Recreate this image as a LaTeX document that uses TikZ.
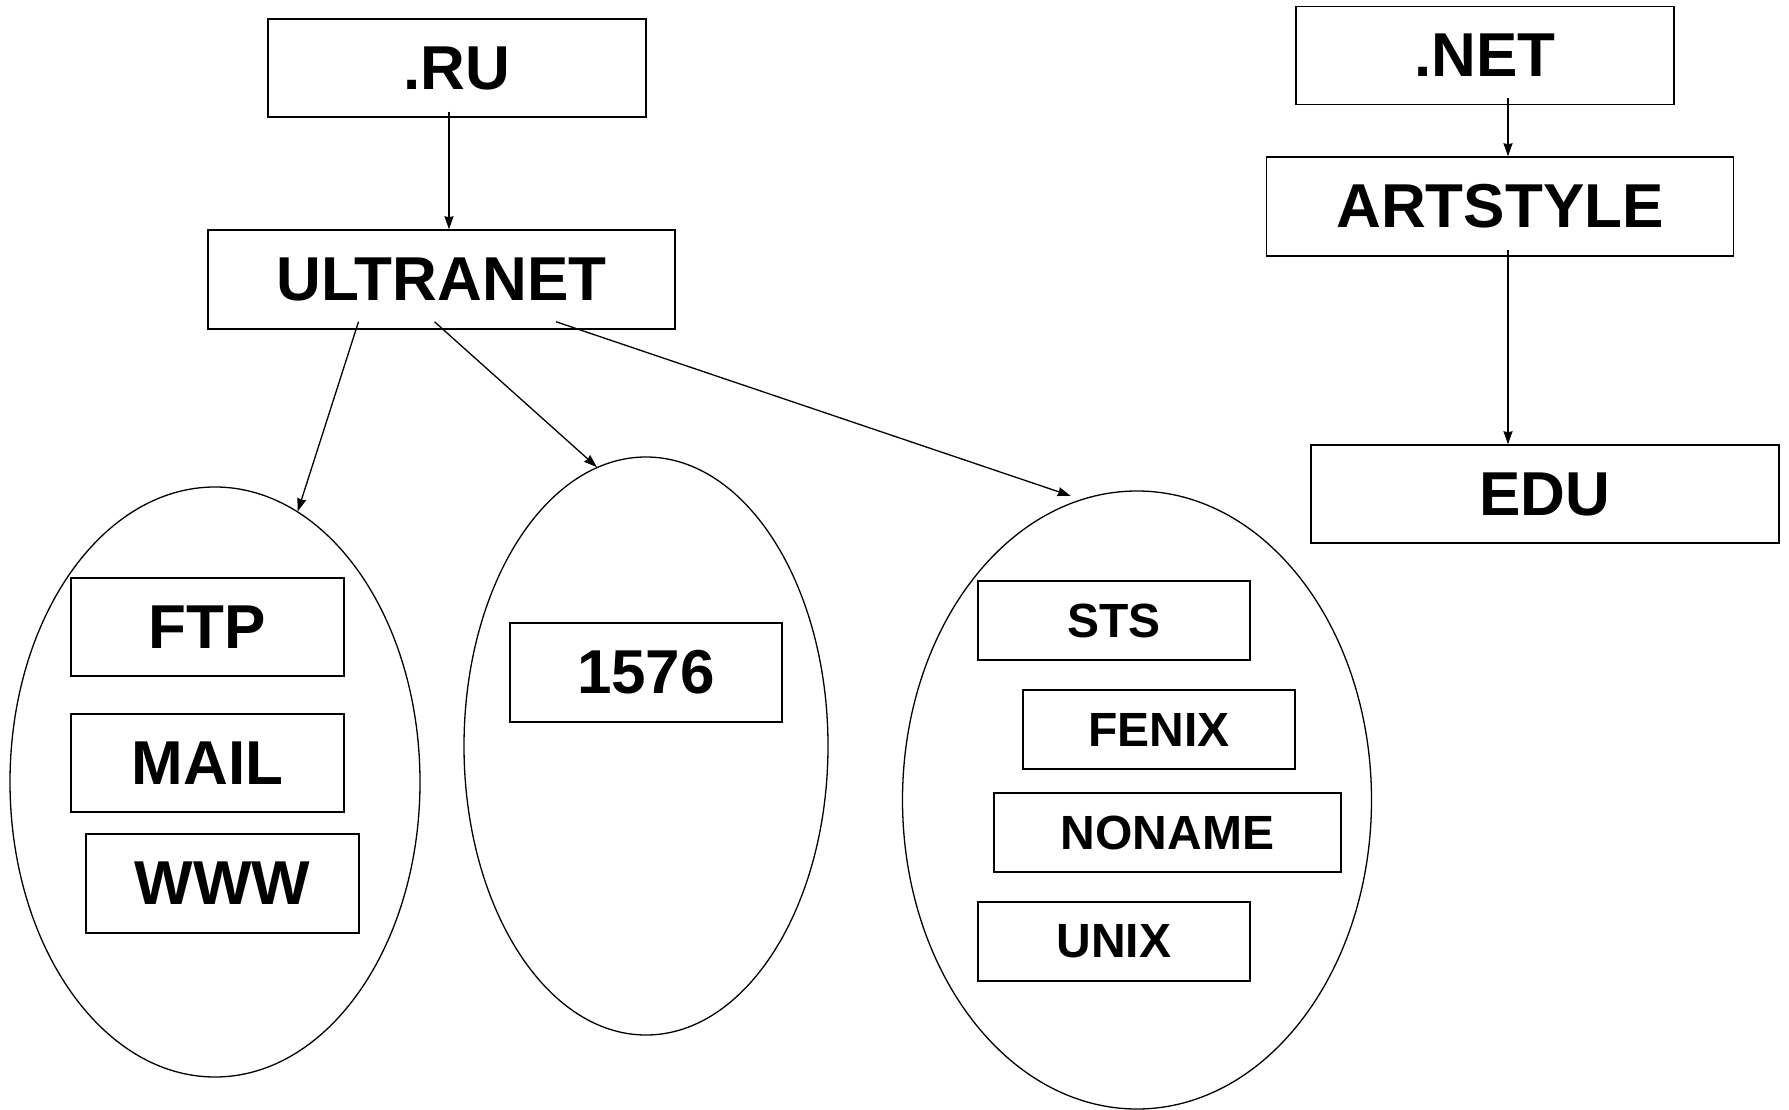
\documentclass[tikz,border=0pt]{standalone}
\usepackage{fontspec}
\setmainfont{Liberation Sans}
\usetikzlibrary{shapes.geometric,arrows.meta}

\begin{document}
\begin{tikzpicture}[x=1pt,y=-1pt,line width=1.3pt,
	box/.style={draw,rectangle,line width=1.5pt,inner sep=0pt,minimum height=98pt,font=\fontsize{62}{70}\selectfont\bfseries},
	smallbox/.style={box,minimum height=79pt,font=\fontsize{48}{56}\selectfont\bfseries},
	group/.style={draw,ellipse,inner sep=0pt},
	arr/.style={->,>={Stealth[length=13pt,width=9pt,inset=1pt]}}]
			\useasboundingbox (0,0) rectangle (1789,1110);
			% domains
			\node[box,minimum width=378pt] (RU)at(457,68) {.RU};
			\node[box,minimum width=467pt,minimum height=99pt] (ULTRANET)at(441.5,279.5) {ULTRANET};
			\node[box,minimum width=378pt] (NET)at(1485,55.5) {.NET};
			\node[box,minimum width=467pt,minimum height=99pt] (ARTSTYLE)at(1500,206.5) {ARTSTYLE};
			\node[box,minimum width=468pt] (EDU)at(1545,494) {EDU};
			% groups
			\node[group,minimum width=410pt,minimum height=590pt] (G1)at(215,782) {};
			\node[group,minimum width=364pt,minimum height=578pt] (G2)at(646,746) {};
			\node[group,minimum width=469pt,minimum height=618pt] (G3)at(1137,800) {};
			\node[box,minimum width=273pt] (FTP)at(207.5,627) {FTP};
			\node[box,minimum width=273pt] (MAIL)at(207.5,763) {MAIL};
			\node[box,minimum width=273pt,minimum height=99pt] (WWW)at(222.5,883.5) {WWW};
			\node[box,minimum width=272pt,minimum height=99pt] (N1576)at(646,672.5) {1576};
			\node[smallbox,minimum width=272pt] (STS)at(1114,620.5) {STS};
			\node[smallbox,minimum width=272pt] (FENIX)at(1159,729.5) {FENIX};
			\node[smallbox,minimum width=347pt] (NONAME)at(1167.5,832.5) {NONAME};
			\node[smallbox,minimum width=272pt] (UNIX)at(1114,941.5) {UNIX};
			\draw[arr] ([xshift=-8pt,yshift=6pt]RU.south) -- ([xshift=7.5pt]ULTRANET.north);
			\draw[arr] ([xshift=-83pt,yshift=8pt]ULTRANET.south) -- (G1.73);
			\draw[arr] ([xshift=-7pt,yshift=8pt]ULTRANET.south) -- (G2.100);
			\draw[arr] ([xshift=114.5pt,yshift=8pt]ULTRANET.south) -- ([xshift=-3pt,yshift=6pt]G3.102);
			\draw[arr] ([xshift=23pt,yshift=7pt]NET.south) -- ([xshift=8pt]ARTSTYLE.north);
			\draw[arr] ([xshift=8pt,yshift=7pt]ARTSTYLE.south) -- ([xshift=-37pt]EDU.north);
		\end{tikzpicture}
\end{document}
